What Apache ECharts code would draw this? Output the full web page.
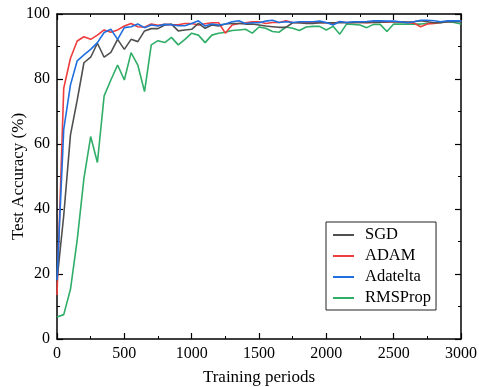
<!DOCTYPE html>
<html><head><meta charset="utf-8">
<script src="https://cdn.jsdelivr.net/npm/echarts@6/dist/echarts.min.js"></script>
<style>html,body{margin:0;padding:0;background:#fff}#c{width:479px;height:387px}</style>
</head><body><div id="c"></div>
<script>
const xs = [0,50,100,150,200,250,300,350,400,450,500,550,600,650,700,750,800,850,900,950,1000,1050,1100,1150,1200,1250,1300,1350,1400,1450,1500,1550,1600,1650,1700,1750,1800,1850,1900,1950,2000,2050,2100,2150,2200,2250,2300,2350,2400,2450,2500,2550,2600,2650,2700,2750,2800,2850,2900,2950,3000];
const sgd = [18,38,62.8,73.5,85.0,86.7,91.0,86.7,88.2,92.2,89.1,92.2,91.5,94.8,95.5,95.5,96.6,96.9,94.8,95.1,95.3,97.1,95.6,96.6,96.3,96.9,97.1,97.1,96.9,96.9,96.6,96.3,96.1,95.9,95.9,97.3,97.3,97.1,97.1,97.3,97.3,97.3,97.3,97.3,97.4,97.5,97.4,97.5,97.5,97.6,97.6,97.6,97.5,97.6,97.9,97.6,97.3,97.4,97.6,97.6,97.6];
const adam = [13.5,77.2,86.4,91.7,93.0,92.2,93.5,95.1,94.4,95.1,96.3,97.1,96.1,95.9,96.9,96.5,96.8,96.7,96.7,97.1,97.1,96.6,97.0,97.3,97.3,94.1,96.6,97.1,97.3,97.6,97.6,97.1,97.4,97.4,97.9,97.4,97.3,97.3,97.4,97.3,97.3,97.1,97.6,97.4,97.4,97.4,97.3,97.4,97.5,97.5,97.6,97.5,97.4,97.2,96.1,96.9,97.1,97.4,97.6,97.9,97.9];
const adatelta = [18.2,64.5,78.2,85.6,87.4,89.1,91.2,94.3,95.3,92.2,95.8,96.1,96.9,95.8,96.6,96.3,96.8,96.7,96.4,96.4,97.1,97.9,96.3,96.9,96.6,96.9,97.6,97.9,97.1,97.3,97.3,97.8,98.1,97.4,97.6,97.4,97.6,97.6,97.6,97.8,97.4,96.6,97.7,97.4,97.6,97.6,97.7,97.9,97.9,97.8,97.8,97.6,97.3,97.6,98.1,98.1,97.9,97.6,97.9,97.9,97.9];
const rmsprop = [6.8,7.5,15.3,30.5,49.4,62.3,54.3,74.8,79.7,84.3,79.7,88.1,84.3,76.1,90.5,91.8,91.2,92.8,90.5,92.2,94.1,93.5,91.2,93.5,94.1,94.4,94.9,95.1,95.3,94.1,96.0,95.6,94.6,94.4,96.0,95.6,94.9,96.0,96.2,96.2,95.1,96.2,93.8,96.9,96.8,96.6,95.8,96.8,96.8,94.6,96.9,96.9,96.9,96.9,96.9,97.1,97.3,97.3,97.6,97.4,96.9];
const xTicks = [0,500,1000,1500,2000,2500,3000];
const yTicks = [0,20,40,60,80,100];

const font = 'Liberation Serif';
const pair = a => xs.map((x,i)=>[x,a[i]]);
const chart = echarts.init(document.getElementById('c'), null, {renderer:'canvas'});
const axLine = {show:true, onZero:false, lineStyle:{color:'#000', width:1.5}};
const tick = {show:true, inside:true, length:6, lineStyle:{color:'#000', width:1.2}};
const minor = {show:true, splitNumber:2, length:3, lineStyle:{color:'#000', width:1}};
const mk = (color, name, data, z) => ({name, type:'line', data:pair(data), showSymbol:false, symbol:'none', z,
  lineStyle:{color, width:1.6}, itemStyle:{color}});
chart.setOption({
  animation:false,
  grid:{left:57, right:18, top:14, bottom:48, containLabel:false, outerBoundsMode:'none'},
  legend:{orient:'vertical', left:326, top:222, borderColor:'#222', borderWidth:1, borderRadius:0,
    padding:[4,5,3,7], itemGap:3, itemWidth:21, itemHeight:2, icon:'rect',
    textStyle:{fontFamily:font, fontSize:16.5, color:'#000', lineHeight:18, padding:[0,0,0,6]},
    data:['SGD','ADAM','Adatelta','RMSProp']},
  xAxis:[{type:'value', min:0, max:3000, interval:500, name:'Training periods', nameLocation:'middle', nameGap:30,
    nameMoveOverlap:false,
    nameTextStyle:{fontFamily:font, fontSize:17, color:'#000'},
    axisLine:axLine, axisTick:tick, minorTick:minor,
    axisLabel:{fontFamily:font, fontSize:16, color:'#000', margin:7, formatter: v => String(v)}, splitLine:{show:false}},
    {type:'value', position:'top', min:0, max:3000, interval:500,
    axisLine:axLine, axisTick:tick, minorTick:minor,
    axisLabel:{show:false}, splitLine:{show:false}}],
  yAxis:[{type:'value', min:0, max:100, interval:20, name:'Test Accuracy (%)', nameLocation:'middle', nameGap:30,
    nameMoveOverlap:false,
    nameTextStyle:{fontFamily:font, fontSize:17, color:'#000'},
    axisLine:axLine, axisTick:tick, minorTick:minor,
    axisLabel:{fontFamily:font, fontSize:16, color:'#000', margin:7, formatter: v => String(v)}, splitLine:{show:false}},
    {type:'value', position:'right', min:0, max:100, interval:20,
    axisLine:axLine, axisTick:tick, minorTick:minor,
    axisLabel:{show:false}, splitLine:{show:false}}],
  series:[
    mk('#505050','SGD',sgd,4),
    mk('#ef3c3c','ADAM',adam,3),
    mk('#1f6fe0','Adatelta',adatelta,5),
    mk('#2fae68','RMSProp',rmsprop,2)
  ]
});
</script></body></html>
